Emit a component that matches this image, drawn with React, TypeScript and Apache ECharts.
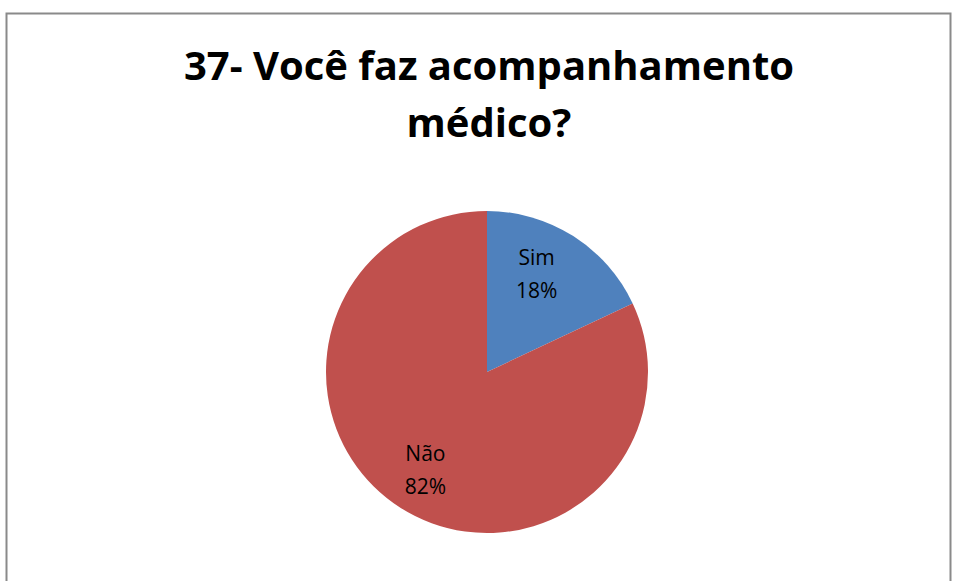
import React, { useEffect, useRef } from "react";
import * as echarts from "echarts";

const categories = ["Sim", "Não"];
const values = [18, 82];
const colors = ["#4F81BD", "#C0504D"];
const titleText = "37- Você faz acompanhamento\nmédico?";

export default function App() {
  const ref = useRef<HTMLDivElement>(null);
  useEffect(() => {
    if (!ref.current) return;
    const chart = echarts.init(ref.current, undefined, { renderer: "svg" });
    const total = values.reduce((a, b) => a + b, 0);
    const data = categories.map((name, i) => ({
      name,
      value: values[i],
      itemStyle: { color: colors[i] },
    }));
    const labelData = categories.map((name, i) => ({
      name,
      value: values[i],
      label: i === 0 ? { offset: [-12, -1] } : {},
    }));
    chart.setOption({
      animation: false,
      backgroundColor: "#ffffff",
      title: {
        text: titleText,
        left: 484,
        top: 31,
        textAlign: "center",
        textStyle: {
          fontFamily: "Open Sans",
          fontWeight: "bold",
          fontSize: 40,
          lineHeight: 57,
          color: "#000000",
        },
      },
      graphic: [
        {
          type: "rect",
          shape: { x: 6.5, y: 13.5, width: 944, height: 620 },
          style: { fill: "none", stroke: "#8a8a8a", lineWidth: 2 },
          silent: true,
          z: 100,
        },
      ],
      series: [
        {
          type: "pie",
          center: [487, 372],
          radius: [0, 161],
          startAngle: 90,
          clockwise: true,
          data,
          label: { show: false },
          labelLine: { show: false },
          itemStyle: { borderWidth: 0 },
          silent: true,
        },
        {
          type: "pie",
          center: [487, 372],
          radius: [0, 224],
          startAngle: 90,
          clockwise: true,
          data: labelData,
          itemStyle: { color: "rgba(0,0,0,0)", borderWidth: 0 },
          silent: true,
          label: {
            show: true,
            position: "inside",
            formatter: (p: any) => `${p.name}\n${Math.round((p.value / total) * 100)}%`,
            fontFamily: "Open Sans",
            fontSize: 21,
            lineHeight: 33,
            color: "#000000",
          },
          labelLine: { show: false },
        },
      ],
    });
    return () => chart.dispose();
  }, []);
  return (
    <div
      ref={ref}
      style={{ position: "fixed", left: 0, top: 0, width: 953, height: 581 }}
    />
  );
}
